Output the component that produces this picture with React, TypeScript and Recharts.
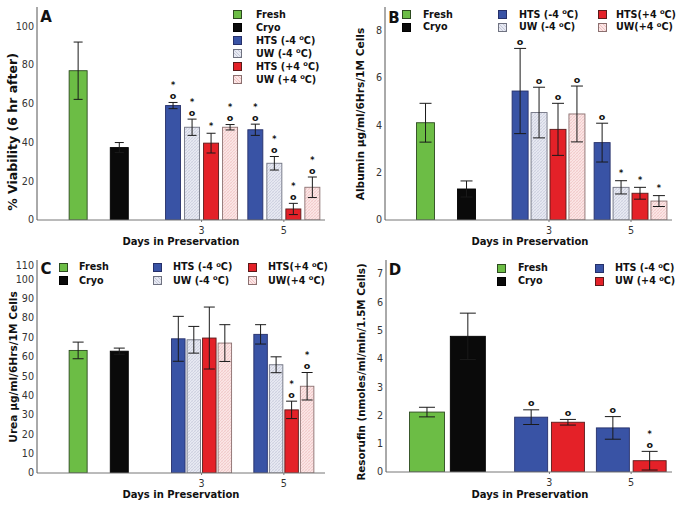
import React from 'react';
import { BarChart, Bar, XAxis, YAxis, ErrorBar } from 'recharts';

const FONT = '"DejaVu Sans", Verdana, sans-serif';

const CONTROLS = ['Fresh', 'Cryo'];
const DAYS = [3, 5];

const LEGEND_A = ['HTS (-4 °C)', 'UW (-4 °C)', 'HTS (+4 °C)', 'UW (+4 °C)'];
const LEGEND_BC = ['HTS (-4 °C)', 'UW (-4 °C)', 'HTS(+4 °C)', 'UW(+4 °C)'];
const LEGEND_D = ['HTS (-4 °C)', 'UW (+4 °C)'];

// A - % viability (6 hr after)
const viabilityCtrl = [77.1, 37.4];
const viabilityCtrlErr = [14.8, 2.6];
const viabilityDay3 = [59.1, 47.9, 39.7, 47.9];
const viabilityDay3Err = [1.6, 4.2, 5.1, 1.4];
const viabilityDay5 = [46.6, 29.3, 5.7, 16.9];
const viabilityDay5Err = [2.9, 3.5, 2.9, 5.3];
const viabilityMarks3 = ['*o', '*o', '*', '*o'];
const viabilityMarks5 = ['*o', '*o', '*o', '*o'];
const viabilityTicks = [0, 20, 40, 60, 80, 100];

// B - albumin
const albuminCtrl = [4.11, 1.31];
const albuminCtrlErr = [0.82, 0.34];
const albuminDay3 = [5.45, 4.54, 3.83, 4.48];
const albuminDay3Err = [1.8, 1.07, 1.1, 1.18];
const albuminDay5 = [3.27, 1.38, 1.13, 0.8];
const albuminDay5Err = [0.82, 0.28, 0.25, 0.23];
const albuminMarks3 = ['o', 'o', 'o', 'o'];
const albuminMarks5 = ['o', '*', '*', '*'];
const albuminTicks = [0, 2, 4, 6, 8];

// C - urea
const ureaCtrl = [63.3, 62.9];
const ureaCtrlErr = [4.3, 1.6];
const ureaDay3 = [69.3, 68.8, 69.7, 67.1];
const ureaDay3Err = [11.6, 6.9, 16, 9.5];
const ureaDay5 = [71.6, 55.9, 32.6, 44.8];
const ureaDay5Err = [5, 4.1, 4.5, 7.1];
const ureaMarks3 = ['', '', '', ''];
const ureaMarks5 = ['', '', '*o', '*o'];
const ureaTicks = [0, 10, 20, 30, 40, 50, 60, 70, 80, 90, 100, 110];

// D - resorufin
const resorufinCtrl = [2.12, 4.8];
const resorufinCtrlErr = [0.17, 0.82];
const resorufinDay3 = [1.94, 1.76];
const resorufinDay3Err = [0.26, 0.1];
const resorufinDay5 = [1.56, 0.4];
const resorufinDay5Err = [0.4, 0.33];
const resorufinMarks3 = ['o', 'o'];
const resorufinMarks5 = ['o', '*o'];
const resorufinTicks = [0, 1, 2, 3, 4, 5, 6, 7];

const GREEN = '#6cbd45';
const BLACK = '#0a0a0a';
const BLUE = '#3953a5';
const RED = '#e42128';
const HATCH_BLUE_CSS = 'repeating-linear-gradient(45deg, #c3c7d8 0 0.7px, #e7e9f2 0.7px 2.4px)';
const HATCH_PINK_CSS = 'repeating-linear-gradient(45deg, #eec0c0 0 0.7px, #fbe6e6 0.7px 2.4px)';

type Style = { svg: string; css: string; stroke: string };
const S_BLUE: Style = { svg: BLUE, css: BLUE, stroke: '#26306a' };
const S_RED: Style = { svg: RED, css: RED, stroke: '#5a1a1a' };
const S_UWM: Style = { svg: 'url(#hatchBlue)', css: HATCH_BLUE_CSS, stroke: '#6f7280' };
const S_UWP: Style = { svg: 'url(#hatchPink)', css: HATCH_PINK_CSS, stroke: '#8a6f6f' };
const S_FRESH: Style = { svg: GREEN, css: GREEN, stroke: '#2d4a20' };
const S_CRYO: Style = { svg: BLACK, css: BLACK, stroke: '#000' };

const STYLE_4 = [S_BLUE, S_UWM, S_RED, S_UWP];
const STYLE_2 = [S_BLUE, S_RED];

type Row = { x: number; value: number; err: number; role: number; mark: string; control: boolean };

function buildRows(
  ctrl: number[], ctrlErr: number[],
  d3: number[], d3Err: number[], m3: string[],
  d5: number[], d5Err: number[], m5: string[],
  spread: number,
): Row[] {
  const rows: Row[] = ctrl.map((v, i) => ({ x: i, value: v, err: ctrlErr[i], role: -1 - i, mark: '', control: true }));
  const groups: [number[], number[], string[]][] = [[d3, d3Err, m3], [d5, d5Err, m5]];
  groups.forEach(([vals, errs, marks], g) => {
    vals.forEach((v, j) => {
      rows.push({ x: DAYS[g] + (j - (vals.length - 1) / 2) * spread, value: v, err: errs[j], role: j, mark: marks[j], control: false });
    });
  });
  return rows;
}

const styleFor = (role: number, styles: Style[]) => (role === -1 ? S_FRESH : role === -2 ? S_CRYO : styles[role]);

function makeShape(styles: Style[], ctrlSize: number) {
  return (p: any) => {
    const { x, y, width, height } = p;
    const row: Row = p.payload;
    if (!row || !height || height <= 0) return <g />;
    const st = styleFor(row.role, styles);
    const w = row.control ? ctrlSize : width;
    const cx = x + width / 2;
    // top of the error bar, from the bar's own pixel scale
    const capTop = y - (height * row.err) / row.value;
    const hasO = row.mark.includes('o');
    const hasStar = row.mark.includes('*');
    return (
      <g>
        <rect x={cx - w / 2} y={y} width={w} height={height} fill={st.svg} stroke={st.stroke} strokeWidth={0.9} />
        {hasO && (
          <text x={cx} y={capTop - 3.5} textAnchor="middle" fontFamily={FONT} fontWeight="bold" fontSize={9.5} fill="#111">o</text>
        )}
        {hasStar && (
          <text x={cx} y={hasO ? capTop - 14.5 : capTop - 4.5} textAnchor="middle" fontFamily={FONT} fontWeight="bold" fontSize={8} fill="#111">*</text>
        )}
      </g>
    );
  };
}

const Sup = ({ text }: { text: string }) => {
  const parts = text.split('°');
  if (parts.length < 2) return <>{text}</>;
  return (
    <>
      {parts[0]}
      <span style={{ fontSize: '0.7em', position: 'relative', top: '-0.45em' }}>o</span>
      {parts[1]}
    </>
  );
};

type LegendItem = { label: string; style: Style; sx: number; tx: number; cy: number };

const Legend = ({ items }: { items: LegendItem[] }) => (
  <>
    {items.map((it, i) => (
      <React.Fragment key={i}>
        <div style={{ position: 'absolute', left: it.sx, top: it.cy - 4, width: 7, height: 7, background: it.style.css, border: `1px solid ${it.style.stroke}` }} />
        <div style={{ position: 'absolute', left: it.tx, top: it.cy - 6.5, height: 13, lineHeight: '13px', fontSize: 9.6, fontWeight: 'bold', whiteSpace: 'nowrap', color: '#111' }}>
          <Sup text={it.label} />
        </div>
      </React.Fragment>
    ))}
  </>
);

type PanelProps = {
  left: number; top: number; width: number; height: number;
  margin: { top: number; right: number; left: number; bottom: number };
  yWidth: number; xHeight: number; yMax: number; yTicks: number[];
  rows: Row[]; styles: Style[]; barSize: number; ctrlSize: number; capW: number;
  shiftTopTick?: number;
};

const Panel = (pp: PanelProps) => {
  const yTick = (p: any) => {
    const v = p.payload.value;
    const dy = pp.shiftTopTick && v === pp.yTicks[pp.yTicks.length - 1] ? pp.shiftTopTick : 0;
    return (
      <text x={p.x} y={p.y + dy} dy="0.35em" textAnchor="end" fontFamily={FONT} fontSize={9.6} fill="#333">{v}</text>
    );
  };
  return (
    <div style={{ position: 'absolute', left: pp.left, top: pp.top }}>
      <BarChart width={pp.width} height={pp.height} data={pp.rows} margin={pp.margin}>
        <XAxis
          type="number"
          dataKey="x"
          domain={[-1, 6]}
          ticks={DAYS}
          interval={0}
          height={pp.xHeight}
          axisLine={{ stroke: '#777', strokeWidth: 1 }}
          tickLine={{ stroke: '#777' }}
          tickSize={2}
          tickMargin={5}
          tick={{ fontSize: 9.6, fill: '#333', fontFamily: FONT }}
        />
        <YAxis
          type="number"
          domain={[0, pp.yMax]}
          ticks={pp.yTicks}
          interval={0}
          width={pp.yWidth}
          axisLine={{ stroke: '#555', strokeWidth: 1 }}
          tickLine={false}
          tickSize={0}
          tickMargin={3}
          tick={yTick}
          allowDataOverflow
        />
        <Bar dataKey="value" barSize={pp.barSize} isAnimationActive={false} shape={makeShape(pp.styles, pp.ctrlSize)}>
          <ErrorBar dataKey="err" width={pp.capW} stroke="#1a1a1a" strokeWidth={1} direction="y" />
        </Bar>
      </BarChart>
    </div>
  );
};

const Text = ({ x, y, size, rotate = false, children }: { x: number; y: number; size: number; rotate?: boolean; children: React.ReactNode }) => (
  <div
    style={{
      position: 'absolute', left: x, top: y, fontSize: size, fontWeight: 'bold',
      whiteSpace: 'nowrap', color: '#111', lineHeight: 1,
      transform: `translate(-50%, -50%)${rotate ? ' rotate(-90deg)' : ''}`,
    }}
  >
    {children}
  </div>
);

const rowsA = buildRows(viabilityCtrl, viabilityCtrlErr, viabilityDay3, viabilityDay3Err, viabilityMarks3, viabilityDay5, viabilityDay5Err, viabilityMarks5, 0.462);
const rowsB = buildRows(albuminCtrl, albuminCtrlErr, albuminDay3, albuminDay3Err, albuminMarks3, albuminDay5, albuminDay5Err, albuminMarks5, 0.462);
const rowsC = buildRows(ureaCtrl, ureaCtrlErr, ureaDay3, ureaDay3Err, ureaMarks3, ureaDay5, ureaDay5Err, ureaMarks5, 0.377);
const rowsD = buildRows(resorufinCtrl, resorufinCtrlErr, resorufinDay3, resorufinDay3Err, resorufinMarks3, resorufinDay5, resorufinDay5Err, resorufinMarks5, 0.9);

const legendA: LegendItem[] = [
  { label: CONTROLS[0], style: S_FRESH, sx: 233, tx: 256, cy: 14 },
  { label: CONTROLS[1], style: S_CRYO, sx: 233, tx: 256, cy: 27 },
  ...LEGEND_A.map((l, i) => ({ label: l, style: STYLE_4[i], sx: 233, tx: 256, cy: 40 + i * 13 })),
];
const legendB: LegendItem[] = [
  { label: CONTROLS[0], style: S_FRESH, sx: 402, tx: 423, cy: 14 },
  { label: CONTROLS[1], style: S_CRYO, sx: 402, tx: 423, cy: 26.5 },
  { label: LEGEND_BC[0], style: STYLE_4[0], sx: 498, tx: 519, cy: 14 },
  { label: LEGEND_BC[1], style: STYLE_4[1], sx: 498, tx: 519, cy: 26.5 },
  { label: LEGEND_BC[2], style: STYLE_4[2], sx: 598, tx: 616, cy: 14 },
  { label: LEGEND_BC[3], style: STYLE_4[3], sx: 598, tx: 616, cy: 26.5 },
];
const legendC: LegendItem[] = [
  { label: CONTROLS[0], style: S_FRESH, sx: 59, tx: 79, cy: 266.5 },
  { label: CONTROLS[1], style: S_CRYO, sx: 59, tx: 79, cy: 280 },
  { label: LEGEND_BC[0], style: STYLE_4[0], sx: 153, tx: 173, cy: 266.5 },
  { label: LEGEND_BC[1], style: STYLE_4[1], sx: 153, tx: 173, cy: 280 },
  { label: LEGEND_BC[2], style: STYLE_4[2], sx: 248, tx: 268, cy: 266.5 },
  { label: LEGEND_BC[3], style: STYLE_4[3], sx: 248, tx: 268, cy: 280 },
];
const legendD: LegendItem[] = [
  { label: CONTROLS[0], style: S_FRESH, sx: 497, tx: 518, cy: 267.5 },
  { label: CONTROLS[1], style: S_CRYO, sx: 497, tx: 518, cy: 280.5 },
  { label: LEGEND_D[0], style: STYLE_2[0], sx: 595, tx: 615, cy: 267.5 },
  { label: LEGEND_D[1], style: STYLE_2[1], sx: 595, tx: 615, cy: 280.5 },
];

export default function App() {
  return (
    <div style={{ position: 'absolute', left: 0, top: 0, width: 683, height: 508, background: '#fff', fontFamily: FONT, overflow: 'hidden' }}>
      <svg width={0} height={0} style={{ position: 'absolute' }}>
        <defs>
          <pattern id="hatchBlue" width={3} height={3} patternUnits="userSpaceOnUse">
            <rect width={3} height={3} fill="#e7e9f2" />
            <path d="M0,3 L3,0" stroke="#bfc3d5" strokeWidth={0.6} />
            <path d="M0,0 L3,3" stroke="#d2d5e3" strokeWidth={0.4} />
          </pattern>
          <pattern id="hatchPink" width={3} height={3} patternUnits="userSpaceOnUse">
            <rect width={3} height={3} fill="#fbe5e5" />
            <path d="M0,3 L3,0" stroke="#ecbcbc" strokeWidth={0.6} />
            <path d="M0,0 L3,3" stroke="#f3d0d0" strokeWidth={0.4} />
          </pattern>
        </defs>
      </svg>

      <Panel left={0} top={0} width={340} height={254} margin={{ top: 7, right: 15, left: 0, bottom: 0 }}
        yWidth={37} xHeight={34} yMax={110} yTicks={viabilityTicks} rows={rowsA} styles={STYLE_4}
        barSize={15} ctrlSize={18} capW={4.5} />
      <Panel left={340} top={0} width={343} height={254} margin={{ top: 7, right: 11, left: 0, bottom: 0 }}
        yWidth={45} xHeight={34} yMax={9} yTicks={albuminTicks} rows={rowsB} styles={STYLE_4}
        barSize={16} ctrlSize={18} capW={6} />
      <Panel left={0} top={254} width={340} height={254} margin={{ top: 6, right: 15, left: 0, bottom: 0 }}
        yWidth={37} xHeight={35} yMax={110} yTicks={ureaTicks} rows={rowsC} styles={STYLE_4}
        barSize={13.5} ctrlSize={18} capW={5.5} shiftTopTick={6} />
      <Panel left={340} top={254} width={343} height={254} margin={{ top: 6, right: 11, left: 0, bottom: 0 }}
        yWidth={46} xHeight={36} yMax={7.5} yTicks={resorufinTicks} rows={rowsD} styles={STYLE_2}
        barSize={33} ctrlSize={35} capW={8} />

      <Text x={46} y={17} size={15}>A</Text>
      <Text x={394} y={18} size={15}>B</Text>
      <Text x={46} y={269} size={15}>C</Text>
      <Text x={395} y={269.5} size={15}>D</Text>

      <Text x={13} y={131.5} size={12.5} rotate>% Viability (6 hr after)</Text>
      <Text x={360} y={113.5} size={10.6} rotate>Albumin µg/ml/6Hrs/1M Cells</Text>
      <Text x={13} y={367} size={10.6} rotate>Urea µg/ml/6Hrs/1M Cells</Text>
      <Text x={361} y={372} size={10.3} rotate>Resorufin (nmoles/ml/min/1.5M Cells)</Text>

      <Text x={181} y={242} size={10}>Days in Preservation</Text>
      <Text x={530} y={242} size={10}>Days in Preservation</Text>
      <Text x={181} y={495} size={10}>Days in Preservation</Text>
      <Text x={530} y={495} size={10}>Days in Preservation</Text>

      <Legend items={legendA} />
      <Legend items={legendB} />
      <Legend items={legendC} />
      <Legend items={legendD} />
    </div>
  );
}
